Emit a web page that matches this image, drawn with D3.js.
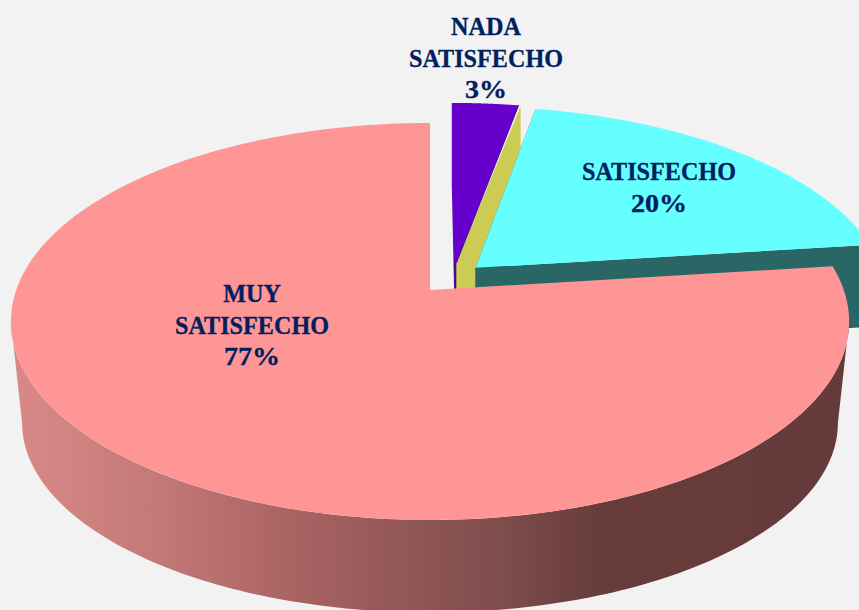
<!DOCTYPE html>
<html><head><meta charset="utf-8">
<script src="https://cdn.jsdelivr.net/npm/d3@7/dist/d3.min.js"></script>
<style>html,body{margin:0;padding:0;background:#f2f2f2;overflow:hidden}svg{display:block}</style>
</head><body><svg id="c" width="859" height="610"></svg>
<script>
const categories = [["NADA","SATISFECHO"],["SATISFECHO"],["MUY","SATISFECHO"]];
const values = [3,20,77];
const faceColors = ["#6600cc","#66ffff","#ff9696"];
const cutColorsA = ["url(#pw)","#2a6666","#8a5050"]; // near-side cut wall
const cutColorsB = ["#cccc55","#2a6666","#8a5050"]; // far-side cut wall

// chart layout (not data)
const W=859,H=610;
const top_ = {cx:430, cy:290, k:-0.1587, a:193.5, b:413.8};
const bot_ = {cx:430, cy:372, k:-0.268,  a:176,   b:393};
const offsets = [[0.065,-0.142],[0.112,-0.117],[0,0]];
const labelPos = [[486,26],[659,171],[252,293]];
const lineH = 31.6;
const explodedDepth = 82;
const yellowFlare = 2;

const proj=(p,u,v)=>{const d=1+p.k*v;return [p.cx+p.b*u/d,p.cy+p.a*v/d];};
const line=d3.line();
const svg=d3.select("#c");
const defs=svg.append("defs");
const gx=d3.scaleLinear().domain([10,848]).range([0,1]);
const wallScale=d3.scaleLinear()
  .domain([10,150,300,500,600,848])
  .range(["#da8a88","#c47a78","#a86262","#7e4d4c","#673c3b","#663a3a"]);
const grad=defs.append("linearGradient").attr("id","wall").attr("gradientUnits","userSpaceOnUse")
  .attr("x1",10).attr("x2",848).attr("y1",0).attr("y2",0);
wallScale.domain().forEach(x=>grad.append("stop").attr("offset",gx(x)).attr("stop-color",wallScale(x)));
const pw=defs.append("linearGradient").attr("id","pw").attr("gradientUnits","userSpaceOnUse")
  .attr("x1",0).attr("x2",0).attr("y1",100).attr("y2",300);
[[0,"#6600cc"],[0.8,"#6600cc"],[0.81,"#4a0a96"],[1,"#4a0a96"]].forEach(s=>pw.append("stop").attr("offset",s[0]).attr("stop-color",s[1]));

const arcs=d3.pie().sort(null).startAngle(0).endAngle(2*Math.PI)(values);
const sample=(a0,a1,n=160)=>d3.range(n+1).map(i=>a0+(a1-a0)*i/n);
const pt=(p,th,off,r=1)=>proj(p,r*Math.sin(th)+off[0],-r*Math.cos(th)+off[1]);
const down=q=>[q[0],q[1]+explodedDepth];

function drawSlice(i){
  const d=arcs[i],o=offsets[i];
  const g=svg.append("g").attr("class","slice");
  if(i<2){
    const a0=pt(top_,d.startAngle,o),c=pt(top_,0,o,0);
    let a1=pt(top_,d.endAngle,o);
    const near=g.append("path").attr("fill",cutColorsA[i]).attr("d",line([a0,c,down(c),down(a0)])+"Z");
    if(i===0){ near.attr("stroke",cutColorsA[i]).attr("stroke-width",2); a1=[a1[0]+yellowFlare,a1[1]+1]; }
    g.append("path").attr("fill",cutColorsB[i]).attr("d",line([c,a1,down(a1),down(c)])+"Z");
  } else {
    const t0=99.1*Math.PI/180,t1=2*Math.PI-t0,b0=105.5*Math.PI/180,b1=2*Math.PI-b0;
    const pts=sample(t0,t1).map(t=>pt(top_,t,o)).concat(sample(b1,b0).map(t=>pt(bot_,t,o)));
    g.append("path").attr("fill","url(#wall)").attr("d",line(pts)+"Z");
  }
  const face=[pt(top_,d.startAngle,o,0)].concat(sample(d.startAngle,d.endAngle).map(t=>pt(top_,t,o)));
  g.append("path").attr("fill",faceColors[i]).attr("d",line(face)+"Z");
  if(i===0){
    g.append("path").attr("fill","none").attr("stroke","#4a0a96").attr("stroke-width",1)
     .attr("d",line([pt(top_,d.endAngle,o),pt(top_,d.endAngle,o,0)]));
  }
}
[0,1,2].forEach(drawSlice);

const labels=svg.append("g").attr("font-family","'Liberation Serif',serif").attr("font-weight","bold")
  .attr("font-size",26).attr("fill","#002060").attr("stroke","#002060").attr("stroke-width",0.3).attr("text-anchor","middle");
categories.forEach((c,i)=>{
  const lines=c.concat([values[i]+"%"]);
  const [x,y]=labelPos[i];
  lines.forEach((t,j)=>labels.append("text")
    .attr("transform",`translate(${x},${y+j*lineH}) scale(${j===lines.length-1?1.08:0.93},1)`)
    .attr("dy","0.35em").text(t));
});
</script></body></html>
